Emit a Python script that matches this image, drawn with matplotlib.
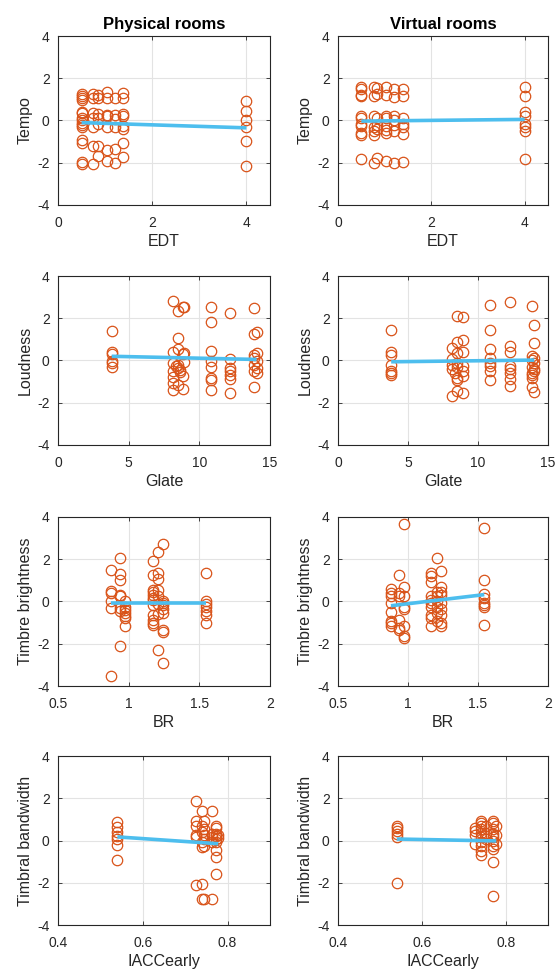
import numpy as np
from matplotlib import pyplot as plt

plt.rcParams['font.family'] = ['Liberation Sans', 'DejaVu Sans']

# --- data (grouped by x level) ---
edt_levels_phys = [0.5, 0.75, 0.85, 1.03, 1.2, 1.38, 4.0]
tempo_phys = [
    [1.25, 1.15, 1.05, 0.95, 0.4, 0.35, 0.1, 0.0, -0.1, -0.2, -0.3, -0.9, -1.05, -1.95, -2.05],
    [1.25, 1.05, 0.37, 0.1, -0.33, -1.2, -2.08],
    [1.2, 1.05, 0.3, 0.1, -0.17, -1.2, -1.68],
    [1.33, 1.08, 0.25, 0.19, -0.3, -1.4, -1.9],
    [1.05, 0.25, 0.05, -0.33, -1.37, -2.0],
    [1.28, 1.05, 0.3, 0.19, -0.25, -0.41, -1.08, -1.73],
    [0.94, 0.43, 0.03, -0.3, -0.98, -2.16],
]
edt_levels_virt = [0.5, 0.77, 0.84, 1.03, 1.21, 1.39, 4.0]
tempo_virt = [
    [1.57, 1.49, 1.2, 1.14, 0.19, 0.11, -0.17, -0.25, -0.57, -0.7, -1.84],
    [1.57, 1.14, 0.22, -0.33, -0.49, -0.7, -2.03],
    [1.52, 1.25, 0.14, -0.22, -0.38, -1.76],
    [1.57, 1.2, 0.22, 0.1, -0.25, -0.44, -0.6, -1.92],
    [1.49, 1.1, 0.19, 0.03, -0.22, -0.49, -2.0],
    [1.49, 1.14, 0.14, -0.17, -0.33, -0.65, -1.97],
    [1.57, 1.14, 0.38, 0.19, -0.17, -0.33, -0.49, -1.84],
]

glate_levels_phys = [3.8, 8.16, 8.35, 8.5, 8.6, 8.87, 8.95, 10.8, 12.2, 13.86, 14.05]
loud_phys = [
    [1.4, 0.4, 0.29, -0.03, -0.14, -0.32],
    [2.8, 0.4, -0.1, -0.48, -0.79, -1.06, -1.38],
    [-0.27],
    [2.35, 1.08, 0.56, -0.2, -0.35, -1.14],
    [-0.56, -0.43],
    [2.55, 0.29, -0.75, -1.33],
    [2.55, 0.37, -0.08],
    [2.54, 1.84, 0.44, -0.03, -0.32, -0.83, -0.9, -1.38],
    [2.27, 0.05, -0.35, -0.51, -0.67, -0.87, -1.54],
    [2.49, 1.24, 0.25, 0.13, -0.19, -0.48, -1.27],
    [1.35, 0.37, -0.03, -0.35, -0.59],
]
glate_levels_virt = [3.8, 8.15, 8.35, 8.5, 8.9, 10.85, 12.3, 13.85, 14.02]
loud_virt = [
    [1.44, 0.4, 0.24, -0.19, -0.48, -0.59, -0.7],
    [0.6, 0.05, -0.19, -0.4, -1.7],
    [-0.59],
    [2.11, 0.89, 0.37, -0.1, -0.3, -0.83, -0.94, -1.46],
    [2.05, 0.97, 0.4, -0.24, -0.51, -0.75, -1.54],
    [2.63, 1.44, 0.56, 0.13, -0.14, -0.24, -0.48, -0.94],
    [2.75, 0.68, 0.4, -0.24, -0.4, -0.59, -0.87, -1.22],
    [2.59, 0.21, 0.02, -0.3, -0.59, -0.67, -0.83, -1.27],
    [1.68, 0.84, 0.13, -0.1, -0.4, -0.51, -1.49],
]

br_levels_phys = [0.876, 0.94, 0.975, 1.17, 1.21, 1.24, 1.55]
bright_phys = [
    [1.5, 0.52, 0.39, 0.0, -0.31, -3.54],
    [2.08, 1.31, 1.02, 0.31, 0.24, -0.31, -0.43, -2.09],
    [0.0, -0.27, -0.39, -0.55, -0.68, -0.79, -1.15],
    [1.94, 1.26, 0.55, 0.43, 0.31, 0.16, 0.08, -0.16, -0.63, -0.87, -1.02, -1.1],
    [2.36, 1.37, 1.06, 0.55, 0.24, -0.11, -0.6, -2.28],
    [2.71, 0.0, -0.08, -0.16, -0.36, -0.55, -1.37, -1.45, -2.91],
    [1.34, 0.0, -0.11, -0.27, -0.43, -0.63, -1.02],
]
br_levels_virt = [0.878, 0.937, 0.973, 1.167, 1.21, 1.235, 1.545]
bright_virt = [
    [0.58, 0.39, 0.27, -0.05, -0.52, -0.91, -1.02, -1.15],
    [1.26, 0.39, 0.27, -0.87, -1.26, -1.34],
    [3.67, 0.68, 0.24, -0.27, -0.36, -1.18, -1.65, -1.73],
    [1.37, 1.21, 0.94, 0.24, 0.08, -0.08, -0.27, -0.63, -0.79, -1.15],
    [2.08, 0.43, 0.24, 0.0, -0.24, -0.55, -0.94],
    [1.46, 0.71, 0.43, 0.31, -0.05, -0.36, -0.63, -1.02, -1.18],
    [3.46, 1.02, 0.36, 0.16, -0.08, -0.16, -0.27, -1.1],
]

iacc_levels_phys = [0.54, 0.726, 0.74, 0.744, 0.763, 0.773, 0.778]
bandw_phys = [
    [0.87, 0.63, 0.39, 0.2, 0.08, -0.2, -0.9],
    [1.89, 0.94, 0.71, 0.24, 0.16, -2.09],
    [1.42, 0.71, 0.39, -0.08, -0.31, -2.05, -2.76],
    [0.94, 0.55, 0.24, 0.08, -0.24, -2.79],
    [1.42, 0.31, 0.16, -0.08, -2.79],
    [0.71, 0.58, 0.31, 0.2, 0.08, -0.08, -0.47, -0.79, -1.57],
    [0.24, 0.11],
]
iacc_levels_virt = [0.54, 0.726, 0.74, 0.752, 0.77, 0.777]
bandw_virt = [
    [0.68, 0.58, 0.47, 0.31, 0.16, -2.0],
    [0.58, 0.47, 0.27, -0.16],
    [0.94, 0.83, 0.71, 0.55, 0.36, 0.16, -0.08, -0.24, -0.52, -0.71],
    [0.68, 0.36, 0.08],
    [0.94, 0.83, 0.55, 0.31, 0.16, 0.0, -0.24, -0.39, -1.0, -2.65],
    [0.71, 0.24, -0.16],
]

# regression lines: slope, intercept
fit_slope = [-0.071, 0.023, -0.0146, 0.0078, 0.0, 0.79, -1.36, -0.38]
fit_intercept = [-0.064, -0.04, 0.255, -0.09, -0.08, -0.895, 0.905, 0.275]

row_xlabels = ["EDT", "Glate", "BR", "IACCearly"]
row_ylabels = ["Tempo", "Loudness", "Timbre brightness", "Timbral bandwidth"]
row_xlims = [(0, 4.5), (0, 15), (0.5, 2), (0.4, 0.9)]
row_xticks = [[0, 2, 4], [0, 5, 10, 15], [0.5, 1, 1.5, 2], [0.4, 0.6, 0.8]]
row_xticklabels = [["0", "2", "4"], ["0", "5", "10", "15"],
                   ["0.5", "1", "1.5", "2"], ["0.4", "0.6", "0.8"]]
col_titles = ["Physical rooms", "Virtual rooms"]

panels = [
    (edt_levels_phys, tempo_phys), (edt_levels_virt, tempo_virt),
    (glate_levels_phys, loud_phys), (glate_levels_virt, loud_virt),
    (br_levels_phys, bright_phys), (br_levels_virt, bright_virt),
    (iacc_levels_phys, bandw_phys), (iacc_levels_virt, bandw_virt),
]


def expand(levels, groups):
    x = []
    y = []
    for lev, g in zip(levels, groups):
        x += [lev] * len(g)
        y += g
    return np.array(x), np.array(y)


fig = plt.figure(figsize=(5.56, 9.72), dpi=100)
W, H = 556, 972
col_left = [58, 338]
col_width = [212, 210]
row_bottom = [205, 445, 686, 925]
ax_h = 169

for i, (levels, groups) in enumerate(panels):
    r, c = divmod(i, 2)
    ax = fig.add_axes([col_left[c] / W, 1 - row_bottom[r] / H,
                       col_width[c] / W, ax_h / H])
    x, y = expand(levels, groups)
    ax.plot(x, y, 'o', mfc='none', mec='#D95319', ms=7.5, mew=0.9, zorder=3)
    xf = np.array([x.min(), x.max()])
    ax.plot(xf, fit_slope[i] * xf + fit_intercept[i], color='#4DBEEE',
            lw=2.6, solid_capstyle='butt', zorder=4)

    ax.set_xlim(*row_xlims[r])
    ax.set_ylim(-4, 4)
    ax.set_xticks(row_xticks[r])
    ax.set_xticklabels(row_xticklabels[r])
    ax.set_yticks([-4, -2, 0, 2, 4])
    ax.set_yticklabels(["-4", "-2", "0", "2", "4"])
    ax.grid(True, color='#e3e3e3', lw=0.8)
    ax.set_axisbelow(True)
    for s in ax.spines.values():
        s.set_color('#262626')
        s.set_linewidth(0.8)
    ax.tick_params(direction='in', length=3, width=0.6, colors='#262626',
                   labelsize=10, top=True, right=True)
    ax.tick_params(axis='x', pad=8)
    ax.tick_params(axis='y', pad=6)
    ax.set_xlabel(row_xlabels[r], fontsize=11.5, color='#262626', labelpad=3)
    ax.set_ylabel(row_ylabels[r], fontsize=11.5, color='#262626', labelpad=3)
    if r == 0:
        ax.set_title(col_titles[c], fontsize=12, fontweight='bold', pad=5)

fig.savefig("out.png", dpi=100)
